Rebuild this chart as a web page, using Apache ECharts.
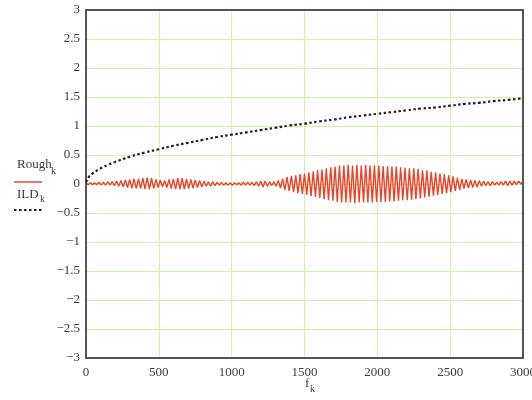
<!DOCTYPE html>
<html>
<head>
<meta charset="utf-8">
<script src="https://cdn.jsdelivr.net/npm/echarts@6/dist/echarts.min.js"></script>
<style>
  html, body { margin: 0; padding: 0; background: #fff; }
  #main { width: 532px; height: 400px; }
</style>
</head>
<body>
<div id="main"></div>
<script>
// Rough_k, sampled every 15 Hz from f = 0 to 3000
const fStep = 15;
const rough = [
  0.02, -0.01, 0.02, -0.01, 0.02, -0.01, 0.03, -0.02, 0.03, -0.02,
  0.04, -0.02, 0.04, -0.03, 0.05, -0.04, 0.06, -0.05, 0.07, -0.06,
  0.08, -0.07, 0.09, -0.08, 0.09, -0.08, 0.10, -0.09, 0.11, -0.09,
  0.10, -0.08, 0.08, -0.06, 0.07, -0.05, 0.06, -0.06, 0.08, -0.08,
  0.09, -0.09, 0.10, -0.09, 0.10, -0.09, 0.09, -0.08, 0.08, -0.07,
  0.07, -0.06, 0.06, -0.05, 0.05, -0.04, 0.04, -0.04, 0.04, -0.03,
  0.03, -0.02, 0.03, -0.02, 0.02, -0.02, 0.02, -0.02, 0.02, -0.01,
  0.02, -0.02, 0.03, -0.02, 0.03, -0.02, 0.03, -0.03, 0.04, -0.04,
  0.05, -0.05, 0.05, -0.04, 0.04, -0.03, 0.04, -0.04, 0.06, -0.07,
  0.09, -0.10, 0.12, -0.12, 0.14, -0.14, 0.15, -0.16, 0.17, -0.17,
  0.18, -0.19, 0.20, -0.21, 0.22, -0.22, 0.24, -0.24, 0.25, -0.26,
  0.27, -0.28, 0.29, -0.29, 0.30, -0.31, 0.32, -0.32, 0.32, -0.32,
  0.33, -0.32, 0.32, -0.33, 0.33, -0.32, 0.32, -0.32, 0.33, -0.32,
  0.32, -0.32, 0.32, -0.31, 0.32, -0.31, 0.31, -0.31, 0.31, -0.30,
  0.30, -0.30, 0.30, -0.29, 0.29, -0.28, 0.28, -0.28, 0.27, -0.27,
  0.27, -0.26, 0.26, -0.25, 0.24, -0.23, 0.23, -0.22, 0.21, -0.20,
  0.20, -0.19, 0.18, -0.17, 0.17, -0.16, 0.15, -0.14, 0.13, -0.12,
  0.11, -0.10, 0.09, -0.08, 0.08, -0.07, 0.07, -0.06, 0.06, -0.05,
  0.06, -0.04, 0.05, -0.03, 0.04, -0.03, 0.04, -0.02, 0.03, -0.02,
  0.04, -0.02, 0.05, -0.03, 0.05, -0.02, 0.05, -0.01, 0.05, 0.00,
  0.05
];

// ILD_k read at these frequencies
const ildF = [0, 25, 50, 100, 150, 200, 300, 400, 500, 600, 700, 800, 900, 1000,
  1100, 1200, 1300, 1400, 1500, 1600, 1700, 1800, 1900, 2000, 2100, 2200, 2300,
  2400, 2500, 2600, 2700, 2800, 2900, 3000];
const ild = [0.03, 0.14, 0.19, 0.27, 0.33, 0.38, 0.47, 0.54, 0.60, 0.66, 0.71, 0.76,
  0.81, 0.85, 0.89, 0.93, 0.97, 1.01, 1.04, 1.08, 1.11, 1.15, 1.18, 1.21, 1.24,
  1.27, 1.30, 1.32, 1.35, 1.38, 1.40, 1.43, 1.45, 1.48];

const xTicks = [0, 500, 1000, 1500, 2000, 2500, 3000];
const yMin = -3, yMax = 3, yStep = 0.5;

const roughData = rough.map((v, k) => [k * fStep, v]);
const ildData = ild.map((v, i) => [ildF[i], v]);

const labelFont = {
  color: '#3a3a3a',
  fontFamily: 'Liberation Serif',
  fontSize: 13
};

const chart = echarts.init(document.getElementById('main'));
chart.setOption({
  animation: false,
  backgroundColor: '#fff',
  grid: {
    left: 86, right: 9, top: 10, bottom: 42,
    outerBoundsMode: 'none',
    containLabel: false,
    show: true,
    borderColor: '#555',
    borderWidth: 2,
    z: 3
  },
  xAxis: {
    type: 'value',
    min: xTicks[0],
    max: xTicks[xTicks.length - 1],
    interval: 500,
    axisLine: { show: false },
    axisTick: { show: false },
    splitLine: { lineStyle: { color: '#cdf5a6', width: 1 } },
    axisLabel: Object.assign({
      margin: 8,
      formatter: v => String(v)
    }, labelFont)
  },
  yAxis: {
    type: 'value',
    min: yMin,
    max: yMax,
    interval: yStep,
    axisLine: { show: false },
    axisTick: { show: false },
    splitLine: { lineStyle: { color: '#cdf5a6', width: 1 } },
    axisLabel: Object.assign({
      margin: 6,
      formatter: v => (v < 0 ? '\u2212' + Math.abs(v) : String(v))
    }, labelFont)
  },
  series: [
    {
      name: 'Rough',
      type: 'line',
      data: roughData,
      showSymbol: false,
      lineStyle: { color: '#e8452c', width: 1.4 },
      z: 2
    },
    {
      name: 'ILD',
      type: 'line',
      data: ildData,
      smooth: true,
      showSymbol: false,
      lineStyle: { color: '#222', width: 2.2, type: [2.5, 2.5] },
      z: 4
    }
  ],
  graphic: [
    { type: 'text', left: 17, top: 158, style: { text: 'Rough', fill: '#3a3a3a', font: '13px "Liberation Serif"' } },
    { type: 'text', left: 51, top: 166, style: { text: 'k', fill: '#3a3a3a', font: '10px "Liberation Serif"' } },
    { type: 'line', shape: { x1: 14, y1: 182, x2: 42, y2: 182 }, style: { stroke: '#e8452c', lineWidth: 1.5 } },
    { type: 'text', left: 17, top: 188, style: { text: 'ILD', fill: '#3a3a3a', font: '13px "Liberation Serif"' } },
    { type: 'text', left: 40, top: 194, style: { text: 'k', fill: '#3a3a3a', font: '10px "Liberation Serif"' } },
    { type: 'line', shape: { x1: 14, y1: 210, x2: 42, y2: 210 }, style: { stroke: '#222', lineWidth: 2, lineDash: [2.5, 2.5] } },
    { type: 'text', left: 305, top: 377, style: { text: 'f', fill: '#3a3a3a', font: '13px "Liberation Serif"' } },
    { type: 'text', left: 310, top: 384, style: { text: 'k', fill: '#3a3a3a', font: '10px "Liberation Serif"' } }
  ]
});
</script>
</body>
</html>
